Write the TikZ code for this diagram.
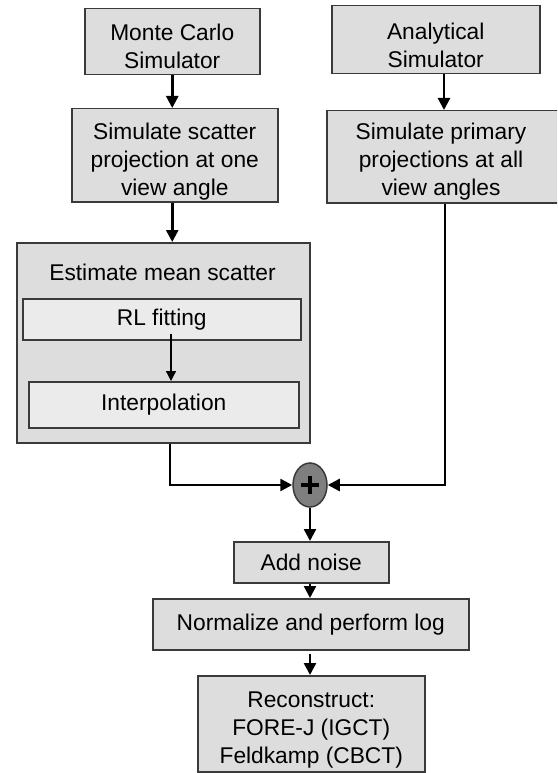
\documentclass[tikz,border=0pt]{standalone}
\usepackage{fontspec}
\setmainfont{Liberation Sans}
\usetikzlibrary{arrows.meta,shapes.geometric}
\definecolor{boxc}{HTML}{DDDDDD}
\definecolor{iboxc}{HTML}{EBEBEB}
\definecolor{bordc}{HTML}{3A3A3A}
\definecolor{plusc}{HTML}{7F7F7F}
\begin{document}
\begin{tikzpicture}[x=1pt,y=-1pt,
  box/.style={draw=bordc, line width=1.5pt, fill=boxc, rectangle, inner sep=0pt, anchor=north west,
    align=center, font=\fontsize{22.75}{28}\selectfont},
  ibox/.style={box, fill=iboxc},
  txt/.style={align=center, font=\fontsize{22.75}{28}\selectfont, inner sep=0pt},
  arr/.style={line width=2.5pt, draw=black, -{Triangle[length=12pt,width=12pt]}},
  thinarr/.style={line width=1.3pt, draw=black, -{Triangle[length=10pt,width=10pt]}}
]
\clip (0,0) rectangle (557,773);
\useasboundingbox (0,0) rectangle (557,773);
\fill[white] (0,0) rectangle (557,773);

% top boxes
\node[box, minimum width=175pt, minimum height=66pt] (mc) at (84,8) {};
\node[txt] (mct) at ([yshift=-5pt]mc.center) {Monte Carlo\\Simulator};
\node[box, minimum width=206pt, minimum height=93pt] (sc) at (71,108) {};
\node[txt] (sct) at ([yshift=-6pt]sc.center) {Simulate scatter\\projection at one\\view angle};
\node[box, minimum width=208pt, minimum height=68pt] (an) at (331,5) {};
\node[txt] (ant) at ([yshift=-6pt]an.center) {Analytical\\Simulator};
\node[box, minimum width=236pt, minimum height=92pt] (pr) at (326,110) {};
\node[txt] (prt) at (441,162) {Simulate primary\\projections at all\\view angles};

% estimate block
\node[box, minimum width=293pt, minimum height=200pt] (est) at (16,242) {};
\node[txt] (estt) at (162.5,272) {Estimate mean scatter};
\node[ibox, minimum width=278pt, minimum height=41pt] (rl) at (22,298) {RL fitting};
\node[ibox, minimum width=270pt, minimum height=46pt] (ip) at (28,381) {Interpolation};

% plus
\node[ellipse, draw=bordc, line width=1.5pt, fill=plusc, minimum width=34pt, minimum height=44pt,
  inner sep=0pt] (plus) at (310,485) {};
\draw[line width=3.6pt, black] ([xshift=-9pt]plus.center) -- ([xshift=9pt]plus.center);
\draw[line width=3.6pt, black] ([yshift=-9pt]plus.center) -- ([yshift=9pt]plus.center);

% bottom boxes
\node[box, minimum width=155pt, minimum height=41pt] (no) at (233,541) {Add noise};
\node[box, minimum width=316pt, minimum height=51pt] (nm) at (152,598) {Normalize and perform log};
\node[box, minimum width=227pt, minimum height=96pt] (re) at (197,675) {};
\node[txt] (ret) at ([yshift=-6pt]re.center) {Reconstruct:\\FORE-J (IGCT)\\Feldkamp (CBCT)};

% helper x positions
\coordinate (ax) at (444,0);
\coordinate (lx) at (170,0);
\coordinate (rx) at (445,0);
\coordinate (ix) at (171,0);

% connectors
\draw[arr] (mc.south) -- (sc.north -| mc.south);
\draw[arr] (sc.south -| mc.south) -- (est.north -| mc.south);
\draw[arr] (an.south -| ax) -- (pr.north -| ax);
\draw[thinarr] ([yshift=7pt]rl.south -| ix) -- (ip.north -| ix);
\draw[arr] (est.south -| lx) |- (plus.west);
\draw[arr] (pr.south -| rx) |- (plus.east);
\draw[arr] (plus.south) -- (no.north -| plus.south);
\draw[arr] (no.south -| plus.south) -- (nm.north -| plus.south);
\draw[arr, shorten <=3pt] (nm.south -| plus.south) -- (re.north -| plus.south);
\end{tikzpicture}
\end{document}
